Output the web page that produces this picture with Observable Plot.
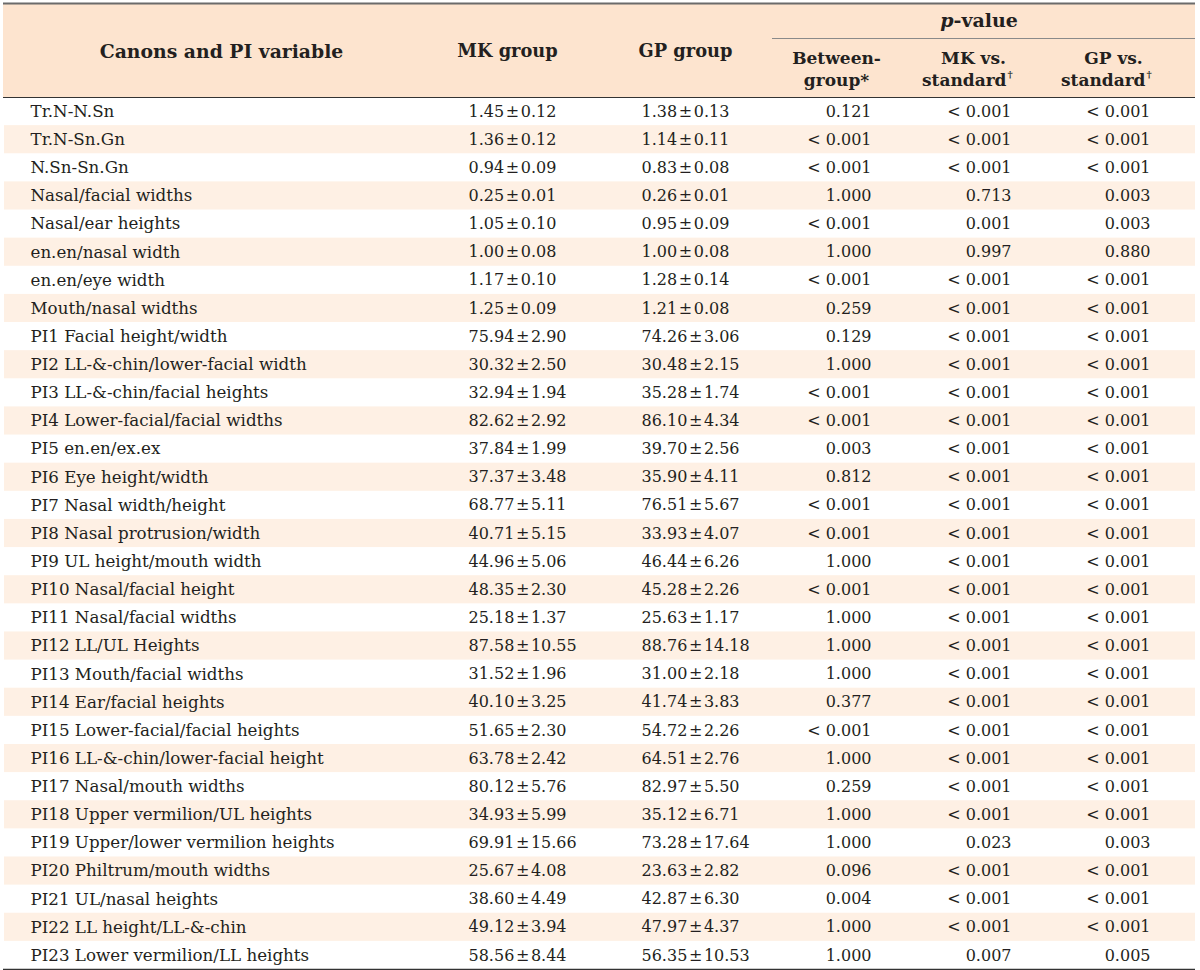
<!DOCTYPE html>
<html>
<head>
<meta charset="utf-8">
<script src="https://cdn.jsdelivr.net/npm/d3@7"></script>
<script src="https://cdn.jsdelivr.net/npm/@observablehq/plot@0.6"></script>
<style>
  @font-face { font-family: "PMNarrow"; src: local("Liberation Serif"), local("LiberationSerif"); unicode-range: U+00B1; }
  html, body { margin: 0; padding: 0; background: #ffffff; }
  #chart svg { display: block; }
  g[aria-label="group values"] text { font-family: "PMNarrow", "DejaVu Serif", serif; letter-spacing: -0.15px; }
</style>
</head>
<body>
<div id="chart"></div>
<script>
// ---------- DATA ----------
const variables = [
  "Tr.N-N.Sn", "Tr.N-Sn.Gn", "N.Sn-Sn.Gn", "Nasal/facial widths", "Nasal/ear heights",
  "en.en/nasal width", "en.en/eye width", "Mouth/nasal widths",
  "PI1 Facial height/width", "PI2 LL-&-chin/lower-facial width", "PI3 LL-&-chin/facial heights",
  "PI4 Lower-facial/facial widths", "PI5 en.en/ex.ex", "PI6 Eye height/width",
  "PI7 Nasal width/height", "PI8 Nasal protrusion/width", "PI9 UL height/mouth width",
  "PI10 Nasal/facial height", "PI11 Nasal/facial widths", "PI12 LL/UL Heights",
  "PI13 Mouth/facial widths", "PI14 Ear/facial heights", "PI15 Lower-facial/facial heights",
  "PI16 LL-&-chin/lower-facial height", "PI17 Nasal/mouth widths", "PI18 Upper vermilion/UL heights",
  "PI19 Upper/lower vermilion heights", "PI20 Philtrum/mouth widths", "PI21 UL/nasal heights",
  "PI22 LL height/LL-&-chin", "PI23 Lower vermilion/LL heights"
];
const mkMean = [1.45, 1.36, 0.94, 0.25, 1.05, 1.00, 1.17, 1.25, 75.94, 30.32, 32.94, 82.62, 37.84, 37.37, 68.77, 40.71, 44.96, 48.35, 25.18, 87.58, 31.52, 40.10, 51.65, 63.78, 80.12, 34.93, 69.91, 25.67, 38.60, 49.12, 58.56];
const mkSD   = [0.12, 0.12, 0.09, 0.01, 0.10, 0.08, 0.10, 0.09, 2.90, 2.50, 1.94, 2.92, 1.99, 3.48, 5.11, 5.15, 5.06, 2.30, 1.37, 10.55, 1.96, 3.25, 2.30, 2.42, 5.76, 5.99, 15.66, 4.08, 4.49, 3.94, 8.44];
const gpMean = [1.38, 1.14, 0.83, 0.26, 0.95, 1.00, 1.28, 1.21, 74.26, 30.48, 35.28, 86.10, 39.70, 35.90, 76.51, 33.93, 46.44, 45.28, 25.63, 88.76, 31.00, 41.74, 54.72, 64.51, 82.97, 35.12, 73.28, 23.63, 42.87, 47.97, 56.35];
const gpSD   = [0.13, 0.11, 0.08, 0.01, 0.09, 0.08, 0.14, 0.08, 3.06, 2.15, 1.74, 4.34, 2.56, 4.11, 5.67, 4.07, 6.26, 2.26, 1.17, 14.18, 2.18, 3.83, 2.26, 2.76, 5.50, 6.71, 17.64, 2.82, 6.30, 4.37, 10.53];
const pBetween = ["0.121", "< 0.001", "< 0.001", "1.000", "< 0.001", "1.000", "< 0.001", "0.259", "0.129", "1.000", "< 0.001", "< 0.001", "0.003", "0.812", "< 0.001", "< 0.001", "1.000", "< 0.001", "1.000", "1.000", "1.000", "0.377", "< 0.001", "1.000", "0.259", "1.000", "1.000", "0.096", "0.004", "1.000", "1.000"];
const pMKvsStd = ["< 0.001", "< 0.001", "< 0.001", "0.713", "0.001", "0.997", "< 0.001", "< 0.001", "< 0.001", "< 0.001", "< 0.001", "< 0.001", "< 0.001", "< 0.001", "< 0.001", "< 0.001", "< 0.001", "< 0.001", "< 0.001", "< 0.001", "< 0.001", "< 0.001", "< 0.001", "< 0.001", "< 0.001", "< 0.001", "0.023", "< 0.001", "< 0.001", "< 0.001", "0.007"];
const pGPvsStd = ["< 0.001", "< 0.001", "< 0.001", "0.003", "0.003", "0.880", "< 0.001", "< 0.001", "< 0.001", "< 0.001", "< 0.001", "< 0.001", "< 0.001", "< 0.001", "< 0.001", "< 0.001", "< 0.001", "< 0.001", "< 0.001", "< 0.001", "< 0.001", "< 0.001", "< 0.001", "< 0.001", "< 0.001", "< 0.001", "0.003", "< 0.001", "< 0.001", "< 0.001", "0.005"];

// ---------- TABLE BUILD ----------
const pm = (m, s) => `${m.toFixed(2)}\u200A±\u200A${s.toFixed(2)}`;
const rows = variables.map((v, i) => ({
  i, mid: i + 0.5,
  label: v,
  mk: pm(mkMean[i], mkSD[i]),
  gp: pm(gpMean[i], gpSD[i]),
  pb: pBetween[i], pm: pMKvsStd[i], pg: pGPvsStd[i]
}));
const striped = rows.filter(d => d.i % 2 === 1);

// layout (x in pixels, y in row units; header lives at negative row units)
const L = { left: 3, right: 1195, labelX: 30, mkX: 468, gpX: 641, pbX: 871, pmX: 1011, pgX: 1150, pvLineX: 772 };
const ink = "#231f20";
const headBg = "#fde4cf";
const stripeBg = "#fef0e4";
const font = "DejaVu Serif";
const fs = 16;

const header = [
  {t: "Canons and PI variable", x: 221, y: -1.635, s: 18.8},
  {t: "MK group", x: 507, y: -1.635, s: 17.8},
  {t: "GP group", x: 685, y: -1.635, s: 17.8},
  {t: "Between-", x: 836, y: -1.37, s: 17},
  {t: "group*", x: 836, y: -0.604, s: 17},
  {t: "MK vs.", x: 973, y: -1.37, s: 17},
  {t: "GP vs.", x: 1113, y: -1.37, s: 17}
];
const stdLabels = [{x: 1006}, {x: 1145}];

const chart = Plot.plot({
  width: 1200, height: 970, margin: 0,
  x: {type: "linear", domain: [0, 1200], range: [0, 1200], axis: null},
  y: {type: "linear", domain: [0, 31], range: [97, 969], axis: null},
  style: {fontFamily: font, fontSize: fs + "px", background: "#ffffff", color: ink},
  marks: [
    // header background
    Plot.rect([0], {x1: L.left, x2: L.right, y1: -3.31, y2: 0, fill: headBg}),
    // row stripes
    Plot.rect(striped, {x1: L.left + 1, x2: L.right, y1: "i", y2: d => d.i + 1, fill: stripeBg}),
    // rules
    Plot.ruleY([-3.34], {x1: L.left, x2: L.right, stroke: "#6b6b6b", strokeWidth: 2}),
    Plot.ruleY([-2.097], {x1: L.pvLineX, x2: L.right, stroke: "#8a8a8a", strokeWidth: 1}),
    Plot.ruleY([0], {x1: L.left, x2: L.right, stroke: "#333333", strokeWidth: 1}),
    Plot.ruleY([31], {x1: L.left, x2: L.right, stroke: "#333333", strokeWidth: 1.5}),
    // header text
    Plot.text(header, {x: "x", y: "y", text: "t", fontSize: "s", fontWeight: "bold", fill: ink}),
    Plot.text(stdLabels, {x: "x", y: -0.604, text: () => "standard", textAnchor: "end", fontWeight: "bold", fontSize: 17, fill: ink}),
    Plot.text(stdLabels, {x: d => d.x + 1, y: -0.604, dy: -6, text: () => "†", textAnchor: "start", fontWeight: "bold", fontSize: 10, fill: ink}),
    Plot.text(["p"], {x: 953, y: -2.737, text: d => d, textAnchor: "end", fontWeight: "bold", fontStyle: "italic", fontSize: 19, fill: ink}),
    Plot.text(["-value"], {x: 953, y: -2.737, text: d => d, textAnchor: "start", fontWeight: "bold", fontSize: 19, fill: ink}),
    // body text
    Plot.text(rows, {x: L.labelX, y: "mid", text: "label", textAnchor: "start", fill: ink, fontSize: 16.7}),
    Plot.text(rows, {x: L.mkX, y: "mid", text: "mk", textAnchor: "start", fill: ink, fontSize: fs, ariaLabel: "group values"}),
    Plot.text(rows, {x: L.gpX, y: "mid", text: "gp", textAnchor: "start", fill: ink, fontSize: fs, ariaLabel: "group values"}),
    Plot.text(rows, {x: L.pbX, y: "mid", text: "pb", textAnchor: "end", fill: ink, fontSize: fs}),
    Plot.text(rows, {x: L.pmX, y: "mid", text: "pm", textAnchor: "end", fill: ink, fontSize: fs}),
    Plot.text(rows, {x: L.pgX, y: "mid", text: "pg", textAnchor: "end", fill: ink, fontSize: fs})
  ]
});
document.getElementById("chart").appendChild(chart);
</script>
</body>
</html>
